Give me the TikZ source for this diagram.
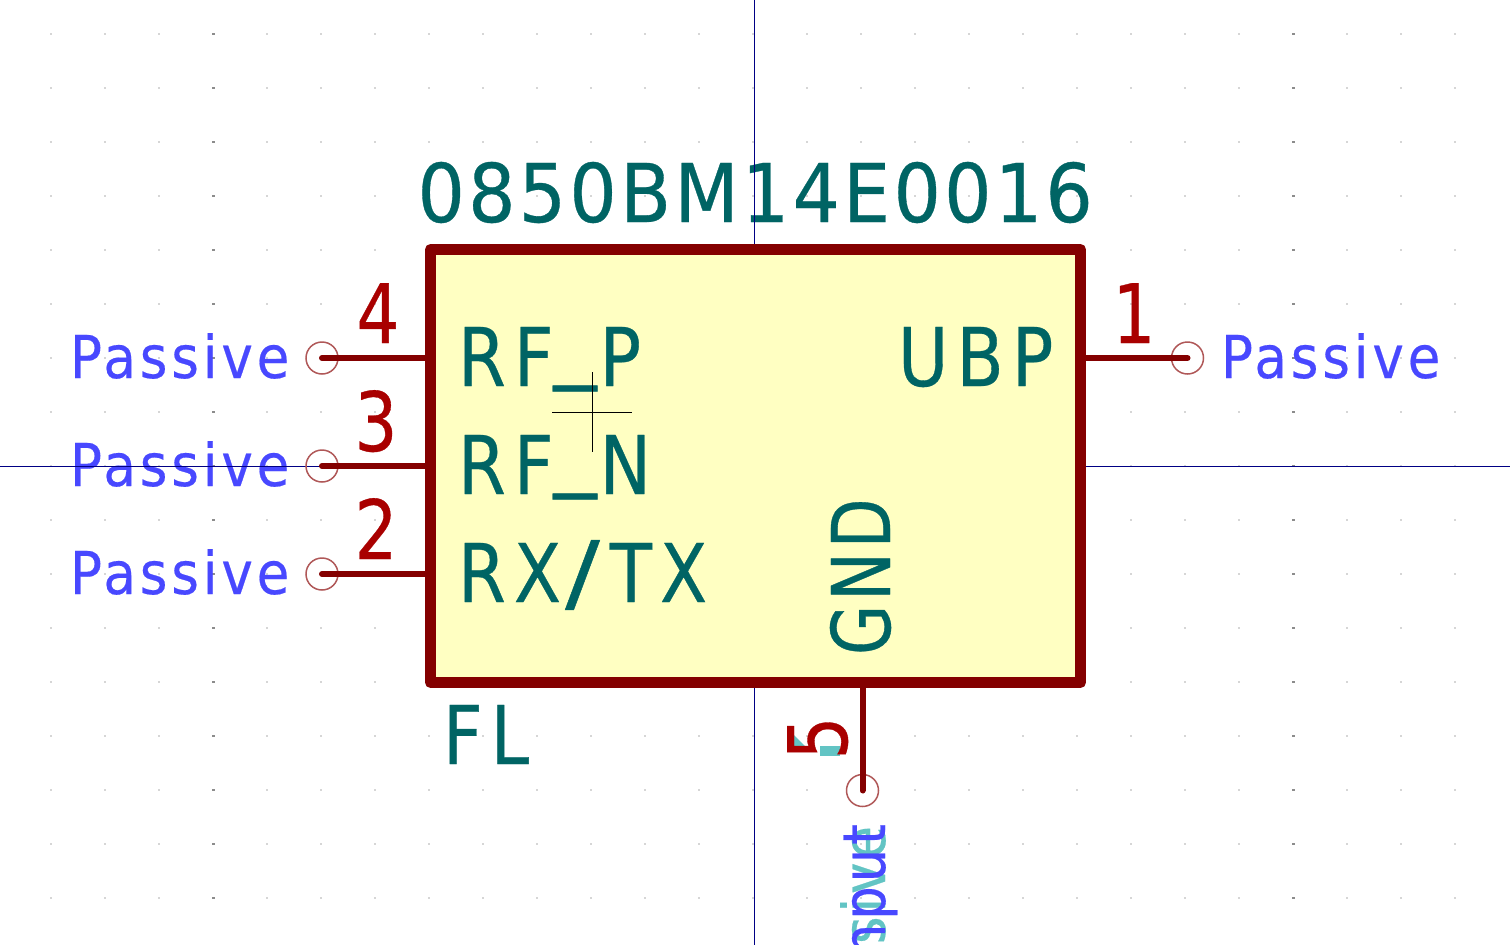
\documentclass[tikz,border=0pt]{standalone}
\usepackage{fontspec}
\setmainfont{DejaVu Sans}
\newfontfamily\valuefont[FakeStretch=0.92,LetterSpace=4,FakeBold=0.4]{DejaVu Sans}
\newfontfamily\capfont[FakeStretch=0.85,LetterSpace=10,FakeBold=0.4]{DejaVu Sans}
\newfontfamily\gndfont[FakeStretch=0.8,LetterSpace=5,FakeBold=0.4]{DejaVu Sans}
\newfontfamily\numfont[FakeStretch=0.82,FakeBold=0.4]{DejaVu Sans}
\newfontfamily\typefont[FakeStretch=0.9,LetterSpace=6.5,FakeBold=0.3]{DejaVu Sans}
\usetikzlibrary{positioning}
\definecolor{symline}{HTML}{840000}
\definecolor{symfill}{HTML}{FFFFC2}
\definecolor{symtext}{HTML}{006464}
\definecolor{pinnum}{HTML}{A90000}
\definecolor{pintype}{HTML}{4848FF}
\definecolor{pinghost}{HTML}{62C4C4}
\definecolor{pinring}{HTML}{B05858}
\definecolor{axisline}{HTML}{000084}
\newcommand{\lowbar}{\raisebox{14.5pt}{\scalebox{1.25}[1.05]{\_}}\kern3pt}
\newcommand{\wideslash}{\kern4pt\scalebox{1.5}[1.05]{/}\kern10pt}
\tikzset{
  label text/.style={inner sep=0pt,outer sep=0pt,text=symtext,font=\capfont\fontsize{81}{81}\selectfont},
  name text/.style={label text,anchor=base west},
  num text/.style={inner sep=0pt,outer sep=0pt,text=pinnum,anchor=base,font=\numfont\fontsize{82}{82}\selectfont},
  type text/.style={inner sep=0pt,outer sep=0pt,text=pintype,font=\typefont\fontsize{59}{59}\selectfont},
  pinline/.style={draw=symline,line width=6pt,line cap=round},
  pinend/.style={circle,draw=pinring,line width=1.5pt,minimum size=32pt,inner sep=0pt,outer sep=0pt},
  axis/.style={draw=axisline,line width=1pt},
}
\begin{document}
\begin{tikzpicture}[x=1pt,y=-1pt]
\clip (0,0) rectangle (1510,945);
\fill[white] (0,0) rectangle (1510,945);
% grid dots
\foreach \gx in {51,105,...,1455}
  \foreach \gy in {34,88,...,898}
    \fill[black!16] (\gx-0.8,\gy-0.8) rectangle (\gx+0.8,\gy+0.8);
\foreach \gx in {213,1293}
  \foreach \gy in {34,88,...,898}
    \fill[black!45] (\gx-1.5,\gy-0.8) rectangle (\gx+1.5,\gy+0.8);
% pin types
\node[type text,anchor=base west] (type4) at (70,378) {Passive};
\node[type text,anchor=base west] (type3) at (70,486) {Passive};
\node[type text,anchor=base west] (type2) at (70,594) {Passive};
\node[type text,anchor=base west] (type1) at (1221,378) {Passive};
\node[type text,anchor=base east,rotate=90,text=pinghost] (ghost5) at (885,826) {Passive};
\node[type text,anchor=base east,rotate=90] (type5) at (885,824) {Input};
% value
\node[name text,font=\valuefont\fontsize{81}{81}\selectfont] (value) at (417.5,222) {0850BM14E0016};
% cross lines
\coordinate (axisN) at (754,0);
\coordinate (axisS) at (754,945);
\coordinate (axisW) at (0,466);
\coordinate (axisE) at (1510,466);
\draw[axis] (axisN)--(axisS);
\draw[axis] (axisW)--(axisE);
% symbol body
\node[draw=symline,fill=symfill,line width=11pt,line join=round,inner sep=0pt,outer sep=0pt,
  minimum width=650pt,minimum height=433pt] (body) at (755.5,466) {};
% pins
\node[pinend] (ring4) at (322,358) {};
\node[pinend] (ring3) at (322,466) {};
\node[pinend] (ring2) at (322,574) {};
\node[pinend] (ring1) at (1187.5,358) {};
\node[pinend] (ring5) at (862.5,790.5) {};
\draw[pinline] (ring4.center)--(ring4.center -| body.west);
\draw[pinline] (ring3.center)--(ring3.center -| body.west);
\draw[pinline] (ring2.center)--(ring2.center -| body.west);
\draw[pinline] (ring1.center)--(ring1.center -| body.east);
\draw[pinline] (ring5.center)--(ring5.center |- body.south);
% pin numbers
\node[num text] (num4) at (378,343) {4};
\node[num text] (num3) at (376,451) {3};
\node[num text] (num2) at (376,559) {2};
\node[num text] (num1) at (1134,343) {1};
\fill[pinghost] (820,746) rectangle (840,756);
\fill[pinghost] (794,735)--(808,749)--(794,749)--cycle;
\node[num text,rotate=90] (num5) at (847,738) {5};
% pin names
\node[name text] (nameP) at (458,386) {RF\lowbar P};
\node[name text] (nameN) at (458,494) {RF\lowbar N};
\node[name text] (nameX) at (458,602) {RX\wideslash TX};
\node[name text] (nameU) at (898,386) {UBP};
\node[name text,rotate=90,font=\gndfont\fontsize{81}{81}\selectfont] (nameG) at (890,655) {GND};
\node[name text] (ref) at (443,764) {FL};
% small cursor
\coordinate (curW) at (552,412);
\coordinate (curE) at (632,412);
\coordinate (curN) at (592,372);
\coordinate (curS) at (592,452);
\draw[line width=1pt] (curW)--(curE);
\draw[line width=1pt] (curN)--(curS);
\end{tikzpicture}
\end{document}
